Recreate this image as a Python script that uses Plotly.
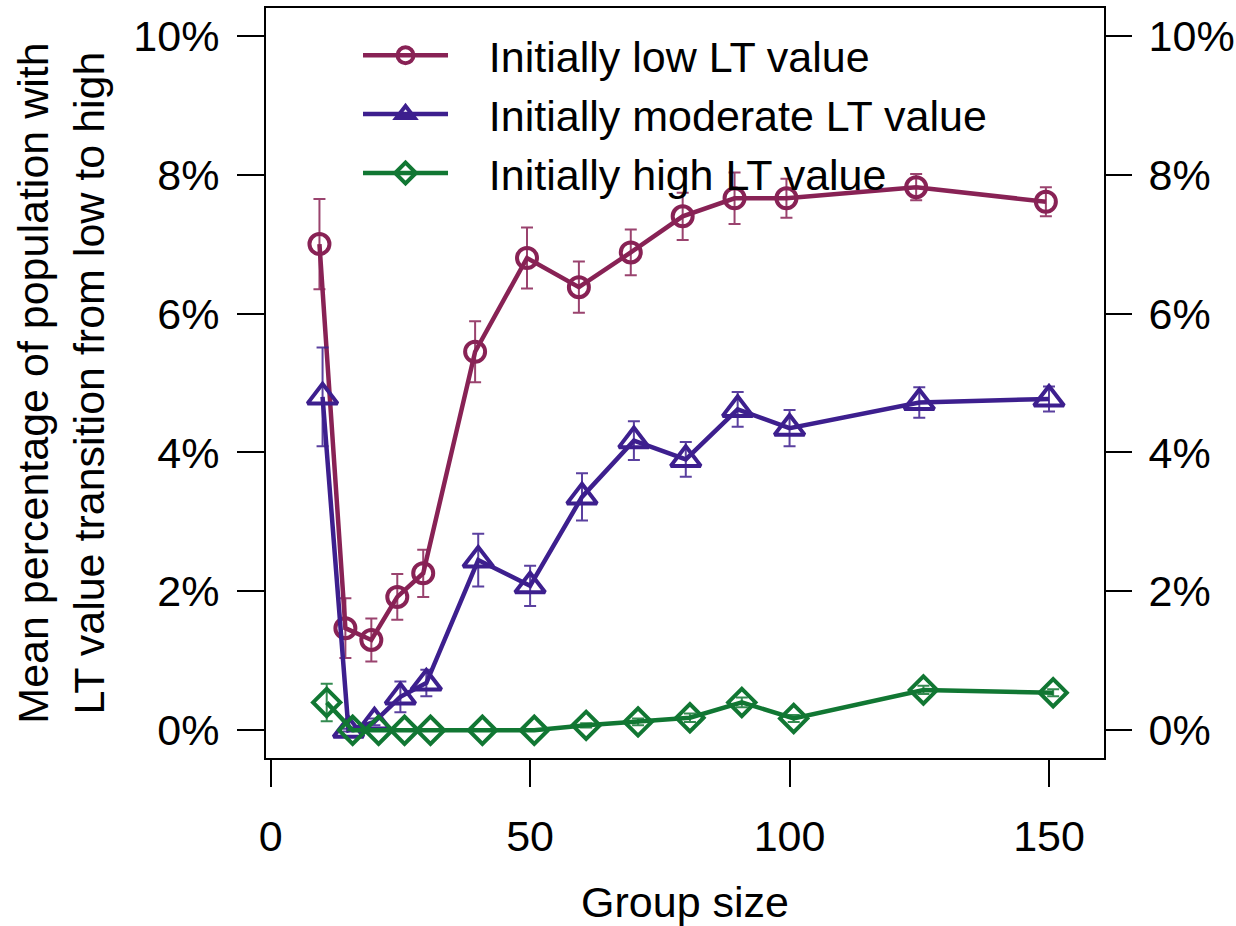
import plotly.graph_objects as go

# Group sizes simulated
GROUP_SIZES = [10, 15, 20, 25, 30, 40, 50, 60, 70, 80, 90, 100, 125, 150]

# Mean percentage of the population switching from low to high LT value
LOW_MEAN = [7.00, 1.47, 1.30, 1.92, 2.26, 5.45, 6.80, 6.38, 6.88, 7.40, 7.66, 7.66, 7.82, 7.61]
LOW_ERR = [0.65, 0.43, 0.31, 0.33, 0.34, 0.44, 0.44, 0.37, 0.33, 0.34, 0.37, 0.28, 0.19, 0.21]

MOD_MEAN = [4.80, 0.00, 0.12, 0.48, 0.68, 2.45, 2.08, 3.36, 4.17, 3.90, 4.62, 4.35, 4.72, 4.77]
MOD_ERR = [0.71, 0.02, 0.05, 0.22, 0.19, 0.38, 0.29, 0.34, 0.28, 0.25, 0.25, 0.26, 0.22, 0.18]

HIGH_MEAN = [0.40, 0.00, 0.00, 0.00, 0.00, 0.00, 0.00, 0.07, 0.12, 0.18, 0.40, 0.17, 0.58, 0.54]
HIGH_ERR = [0.27, 0.00, 0.00, 0.00, 0.00, 0.00, 0.00, 0.03, 0.05, 0.06, 0.07, 0.05, 0.06, 0.05]

SERIES_NAMES = ["Initially low LT value", "Initially moderate LT value", "Initially high LT value"]
Y_TICKS = [0, 2, 4, 6, 8, 10]
Y_TICKTEXT = [f"{v}%" for v in Y_TICKS]
X_TICKS = [0, 50, 100, 150]

FONT = "Liberation Sans, Arial, Helvetica, sans-serif"
FS = 43
GAP = "\u00a0\u00a0\u00a0"  # spacing between legend symbol and label

styles = [
    dict(color="#882255", err="rgba(136,34,85,0.85)", symbol="circle-open", size=20, dodge=-0.6),
    dict(color="#3d1f8e", err="rgba(61,31,142,0.85)", symbol="triangle-up-open", size=26, dodge=0.0),
    dict(color="#117733", err="rgba(17,119,51,0.85)", symbol="diamond-open", size=21, dodge=0.8),
]

fig = go.Figure()
for name, mean, err, st in zip(SERIES_NAMES, [LOW_MEAN, MOD_MEAN, HIGH_MEAN],
                               [LOW_ERR, MOD_ERR, HIGH_ERR], styles):
    xs = [g + st["dodge"] for g in GROUP_SIZES]
    fig.add_trace(go.Scatter(
        x=xs, y=mean, name=GAP + name, mode="lines+markers",
        line=dict(color=st["color"], width=4.5),
        marker=dict(symbol=st["symbol"], size=st["size"], color=st["color"],
                    line=dict(width=4, color=st["color"])),
        error_y=dict(type="data", array=err, visible=True, color=st["err"],
                     thickness=2, width=6),
    ))

# invisible trace to carry the right-hand axis
fig.add_trace(go.Scatter(x=[GROUP_SIZES[0]], y=[Y_TICKS[0]], yaxis="y2", mode="markers",
                         marker=dict(opacity=0), showlegend=False, hoverinfo="skip"))

YRANGE = [-0.4, 10.4]
axis_common = dict(ticks="outside", ticklen=27, tickwidth=2, tickcolor="black",
                   tickfont=dict(family=FONT, size=FS, color="black"),
                   showgrid=False, zeroline=False, automargin=False)

fig.update_layout(
    width=1236, height=926,
    margin=dict(l=266, r=132, t=8, b=168),
    paper_bgcolor="white", plot_bgcolor="white",
    font=dict(family=FONT, size=FS, color="black"),
    showlegend=True,
    legend=dict(x=0.1098, y=0.983, xanchor="left", yanchor="top",
                bgcolor="rgba(0,0,0,0)", borderwidth=0,
                font=dict(family=FONT, size=FS, color="black"),
                itemwidth=85, tracegroupgap=0),
    xaxis=dict(range=[-0.9, 160.6], tickvals=X_TICKS, showline=True, linewidth=2,
               linecolor="black", mirror=True, ticklabelstandoff=12,
               title=dict(text="Group size", font=dict(family=FONT, size=FS), standoff=35),
               **axis_common),
    yaxis=dict(range=YRANGE, tickvals=Y_TICKS, ticktext=Y_TICKTEXT, showline=True, linewidth=2,
               linecolor="black", mirror=True, ticklabelstandoff=9,
               title=dict(text="Mean percentage of population with<br>LT value transition from low to high",
                          font=dict(family=FONT, size=FS), standoff=15),
               **axis_common),
    yaxis2=dict(range=YRANGE, tickvals=Y_TICKS, ticktext=Y_TICKTEXT, overlaying="y", side="right",
                showline=False, ticklabelstandoff=8, **axis_common),
)

fig.write_html("out.html")
